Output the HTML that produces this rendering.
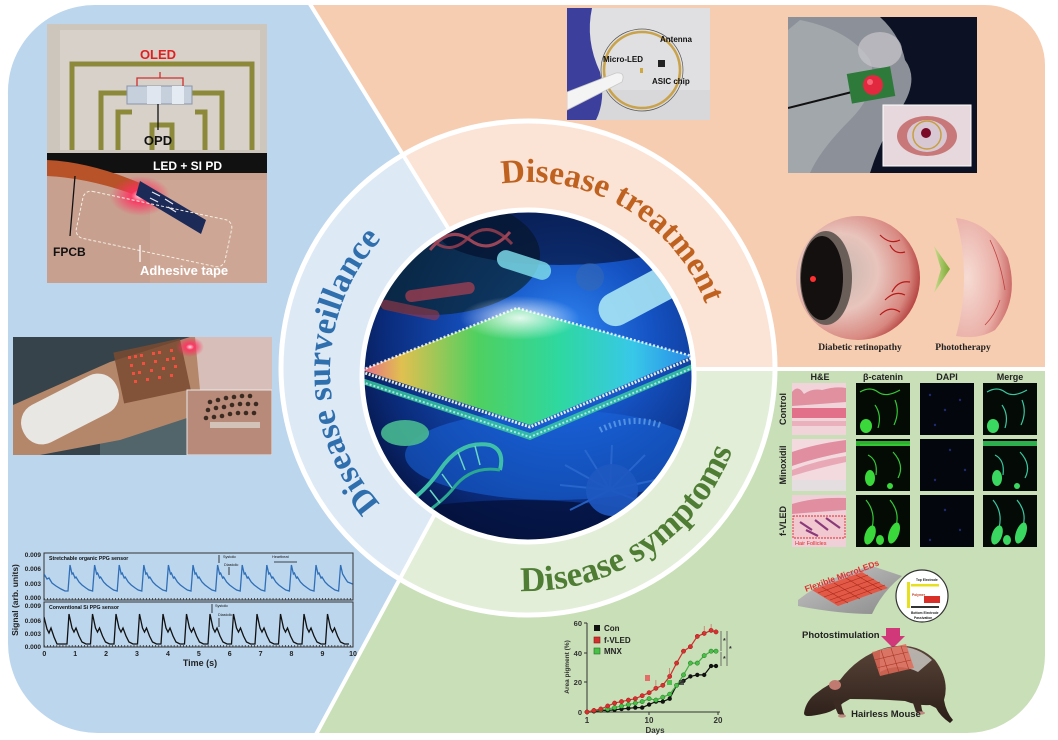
<!DOCTYPE html>
<html><head><meta charset="utf-8"><style>
html,body{margin:0;padding:0;background:#fff;width:1058px;height:740px;overflow:hidden}
svg{display:block}
.sb{font-family:"Liberation Sans",sans-serif;font-weight:bold}
.sr{font-family:"Liberation Serif",serif;font-weight:bold}
</style></head><body>
<svg xmlns="http://www.w3.org/2000/svg" width="1058" height="740" viewBox="0 0 1058 740">
<defs>
<clipPath id="outerC"><path d="M8,95 A87,87 0 0 1 95,5 L985,5 A60,60 0 0 1 1045,65 L1045,655 A78,78 0 0 1 967,733 L98,733 A90,90 0 0 1 8,643 Z"/></clipPath>
<clipPath id="ringC"><circle cx="528" cy="368" r="247"/></clipPath>
<clipPath id="innC"><circle cx="528" cy="376" r="166"/></clipPath>
<clipPath id="p1C"><rect x="47" y="24" width="220" height="259"/></clipPath>
<clipPath id="p2C"><rect x="13" y="337" width="259" height="118"/></clipPath>
<clipPath id="p3C"><rect x="567" y="8" width="143" height="112"/></clipPath>
<clipPath id="p4C"><rect x="788" y="17" width="189" height="156"/></clipPath>
<clipPath id="ppgT"><rect x="44" y="553" width="309" height="47"/></clipPath>
<clipPath id="ppgB"><rect x="44" y="602" width="309" height="45"/></clipPath>
<radialGradient id="bgG" cx="0.6" cy="0.38" r="0.7">
<stop offset="0" stop-color="#2f86f2"/><stop offset="0.35" stop-color="#1553c4"/><stop offset="0.75" stop-color="#0a2a78"/><stop offset="1" stop-color="#040e34"/></radialGradient>
<linearGradient id="plateG" x1="362" y1="0" x2="692" y2="0" gradientUnits="userSpaceOnUse">
<stop offset="0" stop-color="#e86a8a"/><stop offset="0.12" stop-color="#e0c050"/><stop offset="0.35" stop-color="#4fd060"/><stop offset="0.6" stop-color="#2ed8a0"/><stop offset="0.82" stop-color="#38c8e8"/><stop offset="1" stop-color="#2a8ae8"/></linearGradient>
<radialGradient id="glowTop" cx="0.5" cy="0.5" r="0.5"><stop offset="0" stop-color="#ffffff" stop-opacity="0.85"/><stop offset="1" stop-color="#ffffff" stop-opacity="0"/></radialGradient>
<radialGradient id="redGlow" cx="0.5" cy="0.5" r="0.5"><stop offset="0" stop-color="#ffe0e8"/><stop offset="0.3" stop-color="#ff3060" stop-opacity="0.9"/><stop offset="1" stop-color="#ff3060" stop-opacity="0"/></radialGradient>
<radialGradient id="eyeG" cx="0.35" cy="0.45" r="0.7"><stop offset="0" stop-color="#c8b8b0"/><stop offset="0.45" stop-color="#e8c4bc"/><stop offset="0.8" stop-color="#d88880"/><stop offset="1" stop-color="#a82828"/></radialGradient>
<radialGradient id="eye2G" cx="0.2" cy="0.5" r="0.9"><stop offset="0" stop-color="#f6dcd4"/><stop offset="0.6" stop-color="#eab0a8"/><stop offset="1" stop-color="#c05050"/></radialGradient>
<linearGradient id="arrG" x1="0" y1="0" x2="1" y2="0"><stop offset="0" stop-color="#c8dc90"/><stop offset="1" stop-color="#7aa830"/></linearGradient>
<linearGradient id="mouseG" x1="0" y1="0" x2="0" y2="1"><stop offset="0" stop-color="#5a4438"/><stop offset="1" stop-color="#2a1e18"/></linearGradient>
<linearGradient id="sheetG" x1="0" y1="0" x2="1" y2="1"><stop offset="0" stop-color="#c8c8c8"/><stop offset="1" stop-color="#8a8a8a"/></linearGradient>
<marker id="mr" viewBox="0 0 6 6" refX="3" refY="3" markerWidth="5" markerHeight="5" markerUnits="userSpaceOnUse"><circle cx="3" cy="3" r="2.6" fill="#d83030" stroke="#a01818" stroke-width="0.6"/></marker>
<marker id="mg" viewBox="0 0 6 6" refX="3" refY="3" markerWidth="5" markerHeight="5" markerUnits="userSpaceOnUse"><circle cx="3" cy="3" r="2.6" fill="#48c048" stroke="#207020" stroke-width="0.6"/></marker>
<marker id="mk" viewBox="0 0 6 6" refX="3" refY="3" markerWidth="5" markerHeight="5" markerUnits="userSpaceOnUse"><circle cx="3" cy="3" r="2.6" fill="#111"/></marker>
<path id="tpT" d="M501.6,183.8 A190,190 0 0 1 711.5,322.8"/>
<path id="tpS" d="M380.2,503.7 A198,198 0 0 1 400.7,220.3"/>
<path id="tpY" d="M520.4,590.9 A219,219 0 0 0 742.2,417.5"/>
</defs>

<!-- ===== background sectors ===== -->
<g clip-path="url(#outerC)">
<polygon points="0,0 307.5,0 535,369 513,369 313,740 0,740" fill="#bcd6ed"/>
<polygon points="307.5,0 1058,0 1058,369 535,369" fill="#f7cdb1"/>
<polygon points="513,369 1058,369 1058,740 313,740" fill="#c9dfb7"/>
<line x1="307.5" y1="0" x2="535" y2="369" stroke="#fff" stroke-width="4"/>
<line x1="313" y1="740" x2="513" y2="369" stroke="#fff" stroke-width="4"/>
<line x1="520" y1="369" x2="1058" y2="369" stroke="#fff" stroke-width="4"/>
</g>

<!-- ===== ring ===== -->
<g clip-path="url(#ringC)">
<polygon points="0,0 307.5,0 535,369 513,369 313,740 0,740" fill="#dde9f5"/>
<polygon points="307.5,0 1058,0 1058,369 535,369" fill="#fbe3d5"/>
<polygon points="513,369 1058,369 1058,740 313,740" fill="#e3eed9"/>
<line x1="307.5" y1="0" x2="535" y2="369" stroke="#fff" stroke-width="4"/>
<line x1="313" y1="740" x2="513" y2="369" stroke="#fff" stroke-width="4"/>
<line x1="520" y1="369" x2="1058" y2="369" stroke="#fff" stroke-width="4"/>
</g>
<circle cx="528" cy="368" r="247" fill="none" stroke="#fff" stroke-width="5"/>

<!-- ring texts -->
<text class="sr" font-size="33.5" fill="#c0621f"><textPath href="#tpT">Disease treatment</textPath></text>
<text class="sr" font-size="34" fill="#2f6fae"><textPath href="#tpS">Disease surveillance</textPath></text>
<text class="sr" font-size="35" fill="#4e7d33"><textPath href="#tpY">Disease symptoms</textPath></text>

<!-- ===== inner circle image ===== -->
<g clip-path="url(#innC)">
<rect x="355" y="205" width="350" height="345" fill="url(#bgG)"/>
<ellipse cx="430" cy="255" rx="110" ry="60" fill="#0a2630" opacity="0.7"/>
<ellipse cx="560" cy="235" rx="120" ry="30" fill="#050c28" opacity="0.6"/>
<ellipse cx="555" cy="455" rx="150" ry="45" fill="#1a66dc" opacity="0.55"/>
<ellipse cx="520" cy="540" rx="170" ry="40" fill="#04103a" opacity="0.8"/>
<!-- red DNA -->
<path d="M430,250 Q450,225 470,240 Q490,255 510,232" fill="none" stroke="#c05060" stroke-width="3" opacity="0.8"/>
<path d="M430,238 Q450,258 470,236 Q490,220 512,244" fill="none" stroke="#a04050" stroke-width="3" opacity="0.8"/>
<!-- capsules -->
<rect x="405" y="286" width="70" height="12" rx="6" fill="#b04050" opacity="0.7" transform="rotate(-8 440 292)"/>
<rect x="380" y="305" width="60" height="10" rx="5" fill="#a03848" opacity="0.6" transform="rotate(12 410 310)"/>
<rect x="496" y="256" width="56" height="18" rx="9" fill="#7ad8e8" opacity="0.85" transform="rotate(18 524 265)"/>
<rect x="595" y="278" width="95" height="34" rx="17" fill="#a8e4f4" opacity="0.9" transform="rotate(-28 642 295)"/>
<circle cx="590" cy="277" r="14" fill="#3a6ab0" opacity="0.5"/>
<!-- plate -->
<polygon points="362,378 530,433 692,364 692,370 530,440 362,384" fill="#3ad0a0" opacity="0.8"/>
<polygon points="517,308 692,356 530,425 362,370" fill="url(#plateG)"/>
<ellipse cx="520" cy="318" rx="60" ry="22" fill="url(#glowTop)"/>
<polyline points="362,370 517,308 692,356" fill="none" stroke="#fff" stroke-width="2.5" stroke-dasharray="2 2" opacity="0.85"/>
<polyline points="362,372 530,427 692,358" fill="none" stroke="#fffde0" stroke-width="3" stroke-dasharray="2 1.5" opacity="0.9"/>
<polyline points="362,382 530,437 692,368" fill="none" stroke="#d8ffff" stroke-width="2" stroke-dasharray="2 2" opacity="0.7"/>
<!-- green blob -->
<ellipse cx="405" cy="433" rx="24" ry="13" fill="#48b890" opacity="0.9"/>
<!-- green DNA -->
<path d="M380,520 Q420,500 440,470 Q460,440 490,445 Q505,450 500,470" fill="none" stroke="#3ec0a8" stroke-width="4"/>
<path d="M385,535 Q430,515 452,490 Q470,465 500,470" fill="none" stroke="#2aa890" stroke-width="3"/>
<g stroke="#6ad8c0" stroke-width="1.5"><line x1="400" y1="512" x2="405" y2="527"/><line x1="415" y1="503" x2="422" y2="518"/><line x1="430" y1="490" x2="440" y2="503"/><line x1="442" y1="474" x2="452" y2="488"/><line x1="458" y1="452" x2="465" y2="470"/><line x1="475" y1="446" x2="480" y2="465"/></g>
<!-- virus -->
<g stroke="#2c6ad0" stroke-width="2" opacity="0.85">
<line x1="610" y1="490" x2="560" y2="485"/><line x1="610" y1="490" x2="565" y2="465"/><line x1="610" y1="490" x2="585" y2="450"/><line x1="610" y1="490" x2="612" y2="445"/><line x1="610" y1="490" x2="645" y2="455"/><line x1="610" y1="490" x2="655" y2="480"/><line x1="610" y1="490" x2="570" y2="510"/><line x1="610" y1="490" x2="650" y2="505"/></g>
<circle cx="612" cy="490" r="26" fill="#1e58c0" opacity="0.9"/>
<path d="M600,430 Q630,415 660,425" stroke="#7ab8f0" stroke-width="6" stroke-dasharray="2 3" fill="none" opacity="0.6"/>
</g>
<circle cx="528" cy="376" r="166" fill="none" stroke="#fff" stroke-width="5"/>

<!-- ===== Photo 1 (top-left) ===== -->
<g clip-path="url(#p1C)">
<rect x="47" y="24" width="220" height="130" fill="#cdc6bd"/>
<rect x="60" y="30" width="200" height="120" fill="#ddd8d0" opacity="0.6"/>
<g fill="none" stroke="#8c8a3a" stroke-width="5">
<path d="M72,150 V64 H252 V150"/>
<path d="M101,150 V93 H150"/><path d="M185,93 H222 V150"/>
<path d="M118,150 V112 H132"/><path d="M195,112 H205 V150"/>
<path d="M152,150 V125 H172 V150"/>
</g>
<rect x="127" y="86" width="65" height="18" fill="#c6cfdc" stroke="#8a96a8" stroke-width="1"/>
<rect x="147" y="86" width="14" height="18" fill="#dfe6ef"/>
<rect x="172" y="86" width="12" height="18" fill="#e4ebf2"/>
<path d="M137,86 V78 H183 V86" fill="none" stroke="#d03030" stroke-width="1.3"/>
<line x1="160" y1="78" x2="160" y2="72" stroke="#d03030" stroke-width="1.3"/>
<text x="158" y="59" class="sb" font-size="13" fill="#e02020" text-anchor="middle">OLED</text>
<line x1="158" y1="104" x2="158" y2="130" stroke="#111" stroke-width="1.3"/>
<text x="158" y="145" class="sb" font-size="13" fill="#111" text-anchor="middle">OPD</text>
<rect x="47" y="153" width="220" height="130" fill="#c8a090"/>
<rect x="150" y="180" width="117" height="103" fill="#d0aa9a" opacity="0.6"/>
<path d="M47,153 H267 V173 H110 Q80,168 47,172 Z" fill="#111"/>
<text x="153" y="170" class="sb" font-size="12" fill="#fff">LED + SI PD</text>
<path d="M47,160 Q90,162 140,183 L138,196 Q90,178 47,176 Z" fill="#b85228"/>
<ellipse cx="140" cy="196" rx="30" ry="20" fill="url(#redGlow)"/>
<polygon points="140,181 206,220 201,234 136,195" fill="#1c2a58"/>
<g stroke="#e8e8f0" stroke-width="1.2"><line x1="152" y1="192" x2="160" y2="196"/><line x1="165" y1="199" x2="173" y2="204"/><line x1="150" y1="198" x2="158" y2="202"/><line x1="168" y1="207" x2="176" y2="212"/></g>
<rect x="78" y="205" width="152" height="48" rx="8" fill="none" stroke="#f4efe0" stroke-width="1" stroke-dasharray="3 2" transform="rotate(12 154 229)"/>
<line x1="75" y1="176" x2="70" y2="236" stroke="#111" stroke-width="1.3"/>
<line x1="140" y1="245" x2="140" y2="262" stroke="#fff" stroke-width="1.2"/>
<text x="53" y="256" class="sb" font-size="12" fill="#111">FPCB</text>
<text x="140" y="275" class="sb" font-size="13" fill="#fff">Adhesive tape</text>
</g>

<!-- ===== Photo 2 ===== -->
<g clip-path="url(#p2C)">
<rect x="13" y="337" width="259" height="118" fill="#36434a"/>
<rect x="100" y="415" width="90" height="40" fill="#5c7478" opacity="0.7"/>
<polygon points="13,405 110,362 190,337 272,337 272,392 187,392 187,418 120,440 40,455 13,455" fill="#b4876a"/>
<polygon points="195,337 272,337 272,390 200,390" fill="#d8beb8"/>
<rect x="118" y="345" width="68" height="52" fill="#7a4a30" opacity="0.85" transform="rotate(-12 152 371)"/>
<g fill="#ff5040" opacity="0.9">
<rect x="128" y="356" width="3" height="3"/><rect x="134" y="355" width="3" height="3"/><rect x="140" y="354" width="3" height="3"/><rect x="152" y="352" width="3" height="3"/><rect x="158" y="351" width="3" height="3"/><rect x="170" y="349" width="3" height="3"/>
<rect x="130" y="364" width="3" height="3"/><rect x="142" y="362" width="3" height="3"/><rect x="154" y="360" width="3" height="3"/><rect x="166" y="358" width="3" height="3"/><rect x="172" y="357" width="3" height="3"/>
<rect x="132" y="372" width="3" height="3"/><rect x="138" y="371" width="3" height="3"/><rect x="150" y="369" width="3" height="3"/><rect x="162" y="367" width="3" height="3"/><rect x="174" y="365" width="3" height="3"/>
<rect x="134" y="380" width="3" height="3"/><rect x="146" y="378" width="3" height="3"/><rect x="158" y="376" width="3" height="3"/><rect x="170" y="374" width="3" height="3"/>
</g>
<ellipse cx="190" cy="347" rx="14" ry="10" fill="url(#redGlow)"/>
<rect x="18" y="388" width="104" height="42" rx="20" fill="#e9e7e3" transform="rotate(-27 70 409)"/>
<rect x="187" y="390" width="85" height="65" fill="#b88a7a" stroke="#e8e8e8" stroke-width="1"/>
<g fill="#3a2a22">
<circle cx="210" cy="402" r="2.3"/><circle cx="218" cy="400" r="2.3"/><circle cx="226" cy="398" r="2.3"/><circle cx="234" cy="397" r="2.3"/><circle cx="242" cy="396" r="2.3"/><circle cx="250" cy="396" r="2.3"/>
<circle cx="208" cy="410" r="2.3"/><circle cx="216" cy="408" r="2.3"/><circle cx="224" cy="407" r="2.3"/><circle cx="232" cy="405" r="2.3"/><circle cx="240" cy="404" r="2.3"/><circle cx="248" cy="404" r="2.3"/><circle cx="256" cy="404" r="2.3"/>
<circle cx="206" cy="418" r="2.3"/><circle cx="214" cy="417" r="2.3"/><circle cx="222" cy="416" r="2.3"/><circle cx="230" cy="414" r="2.3"/><circle cx="238" cy="413" r="2.3"/><circle cx="246" cy="413" r="2.3"/><circle cx="254" cy="413" r="2.3"/>
</g>
<rect x="210" y="422" width="50" height="6" fill="#d8d0c8" opacity="0.8"/>
</g>

<!-- ===== PPG chart ===== -->
<g class="sb" font-size="6.5" fill="#222" text-anchor="end">
<text x="41" y="557">0.009</text><text x="41" y="571">0.006</text><text x="41" y="586">0.003</text><text x="41" y="600">0.000</text>
<text x="41" y="608">0.009</text><text x="41" y="623">0.006</text><text x="41" y="636">0.003</text><text x="41" y="649">0.000</text>
</g>
<rect x="44" y="553" width="309" height="47" fill="none" stroke="#333" stroke-width="1"/>
<rect x="44" y="602" width="309" height="45" fill="none" stroke="#333" stroke-width="1"/>
<line x1="44" y1="646" x2="353" y2="646" stroke="#333" stroke-width="2" stroke-dasharray="0.8 2.29"/>
<line x1="44" y1="599" x2="353" y2="599" stroke="#333" stroke-width="2" stroke-dasharray="0.8 2.29"/>
<g clip-path="url(#ppgT)">
<path fill="none" stroke="#2f6fb8" stroke-width="1.3" d="M44,574 l3,5 l2,-1 l3,5 l4,3 l5,3 l4,2 l3,0 l2,-26 l2,9 l1,-1 l2,5 l1,-1 l3,5 l3,3 l4,3 l3,2 l3.6,1 l2,-26 l2,9 l1,-1 l2,5 l1,-1 l3,5 l3,3 l4,3 l3,2 l3.6,1 l2,-26 l2,9 l1,-1 l2,5 l1,-1 l3,5 l3,3 l4,3 l3,2 l3.6,1 l2,-26 l2,9 l1,-1 l2,5 l1,-1 l3,5 l3,3 l4,3 l3,2 l3.6,1 l2,-26 l2,9 l1,-1 l2,5 l1,-1 l3,5 l3,3 l4,3 l3,2 l3.6,1 l2,-26 l2,9 l1,-1 l2,5 l1,-1 l3,5 l3,3 l4,3 l3,2 l3.6,1 l2,-26 l2,9 l1,-1 l2,5 l1,-1 l3,5 l3,3 l4,3 l3,2 l3.6,1 l2,-26 l2,9 l1,-1 l2,5 l1,-1 l3,5 l3,3 l4,3 l3,2 l3.6,1 l2,-26 l2,9 l1,-1 l2,5 l1,-1 l3,5 l3,3 l4,3 l3,2 l3.6,1 l2,-26 l2,9 l1,-1 l2,5 l1,-1 l3,5 l3,3 l4,3 l3,2 l3.6,1 l2,-26 l2,9 l1,-1 l2,5 l1,-1 l3,5 l3,3 l4,3 l3,2 l3.6,1 l2,-26 l2,9 l3,5 l2,3 l5,2"/>
</g>
<g clip-path="url(#ppgB)">
<path fill="none" stroke="#111" stroke-width="1.3" d="M44,617 l3,12 l2,4 l2,-5 l3,9 l3,7 l5,0 l5,0 l2,-30 l3,14 l2,4 l2,-4 l3,8 l3,6 l4,2 l4.5,0 l2,-30 l3,14 l2,4 l2,-4 l3,8 l3,6 l4,2 l4.5,0 l2,-30 l3,14 l2,4 l2,-4 l3,8 l3,6 l4,2 l4.5,0 l2,-30 l3,14 l2,4 l2,-4 l3,8 l3,6 l4,2 l4.5,0 l2,-30 l3,14 l2,4 l2,-4 l3,8 l3,6 l4,2 l4.5,0 l2,-30 l3,14 l2,4 l2,-4 l3,8 l3,6 l4,2 l4.5,0 l2,-30 l3,14 l2,4 l2,-4 l3,8 l3,6 l4,2 l4.5,0 l2,-30 l3,14 l2,4 l2,-4 l3,8 l3,6 l4,2 l4.5,0 l2,-30 l3,14 l2,4 l2,-4 l3,8 l3,6 l4,2 l4.5,0 l2,-30 l3,14 l2,4 l2,-4 l3,8 l3,6 l4,2 l4.5,0 l2,-30 l3,14 l2,4 l2,-4 l3,8 l3,6 l4,2 l4.5,0 l2,-30 l3,14 l2,4 l2,-4 l3,8 l3,6 l4,2 l4.5,0"/>
</g>
<g class="sb" font-size="5.2" fill="#111">
<text x="49" y="560">Stretchable organic PPG sensor</text>
<text x="49" y="609">Conventional Si PPG sensor</text>
</g>
<g font-family="Liberation Sans,sans-serif" font-size="3.8" fill="#111">
<text x="223" y="558">Systolic</text><text x="224" y="566">Diastolic</text><text x="272" y="558">Heartbeat</text>
<text x="215" y="607">Systolic</text><text x="218" y="616">Diastolic</text>
</g>
<g stroke="#111" stroke-width="0.8" fill="none">
<line x1="219" y1="555" x2="219" y2="563"/><line x1="229" y1="567" x2="229" y2="575"/>
<line x1="274" y1="562" x2="297" y2="562"/>
<line x1="212" y1="604" x2="212" y2="613"/><line x1="219" y1="618" x2="219" y2="627"/>
</g>
<g class="sb" font-size="7" fill="#222" text-anchor="middle">
<text x="44.3" y="656">0</text><text x="75.2" y="656">1</text><text x="106.1" y="656">2</text><text x="137" y="656">3</text><text x="167.9" y="656">4</text><text x="198.8" y="656">5</text><text x="229.7" y="656">6</text><text x="260.6" y="656">7</text><text x="291.5" y="656">8</text><text x="322.4" y="656">9</text><text x="353" y="656">10</text>
</g>
<text x="200" y="666" class="sb" font-size="9" fill="#222" text-anchor="middle">Time (s)</text>
<text class="sb" font-size="8.5" fill="#222" text-anchor="middle" transform="translate(18 600) rotate(-90)">Signal (arb. units)</text>

<!-- ===== Antenna photo ===== -->
<g clip-path="url(#p3C)">
<rect x="567" y="8" width="143" height="112" fill="#e0e0e2"/>
<rect x="567" y="90" width="143" height="30" fill="#d2d2d6" opacity="0.6"/>
<path d="M567,8 L592,8 Q585,40 600,72 Q606,100 596,120 L567,120 Z" fill="#3d3f9c"/>
<circle cx="642" cy="70" r="41" fill="none" stroke="#555" stroke-width="0.7"/>
<circle cx="642" cy="70" r="38" fill="none" stroke="#c9a24a" stroke-width="2.6"/>
<path d="M567,92 L616,73 Q626,72 622,82 L567,110 Z" fill="#f4f4f4" stroke="#c8c8c8" stroke-width="0.8"/>
<rect x="658" y="60" width="7" height="7" fill="#222"/>
<rect x="640" y="68" width="3" height="5" fill="#d0a840"/>
<text x="660" y="42" class="sb" font-size="8" fill="#111">Antenna</text>
<text x="603" y="62" class="sb" font-size="8" fill="#111">Micro-LED</text>
<text x="652" y="84" class="sb" font-size="8" fill="#111">ASIC chip</text>
</g>

<!-- ===== Mouse eye photo ===== -->
<g clip-path="url(#p4C)">
<rect x="788" y="17" width="189" height="156" fill="#0c1224"/>
<path d="M788,17 L880,17 Q900,35 905,60 Q920,80 900,110 Q880,140 870,173 L788,173 Z" fill="#8c9098"/>
<path d="M800,20 Q850,30 870,60 Q880,90 850,120 Q820,150 810,173 L788,173 L788,30 Z" fill="#a8acb2" opacity="0.8"/>
<ellipse cx="880" cy="50" rx="22" ry="18" fill="#c8c6cc" opacity="0.7"/>
<line x1="788" y1="108" x2="852" y2="92" stroke="#111" stroke-width="2"/>
<rect x="849" y="70" width="44" height="30" fill="#2d7a3a" transform="rotate(-10 871 85)"/>
<circle cx="873" cy="85" r="10" fill="#e2283e"/>
<circle cx="870" cy="82" r="3" fill="#ff8090" opacity="0.7"/>
<rect x="883" y="105" width="88" height="61" fill="#e6d8dc" stroke="#fff" stroke-width="1"/>
<ellipse cx="927" cy="136" rx="30" ry="20" fill="#c87878"/>
<ellipse cx="927" cy="136" rx="20" ry="16" fill="#d8c8d4"/>
<circle cx="927" cy="135" r="14" fill="none" stroke="#c8a040" stroke-width="1.5"/>
<circle cx="926" cy="133" r="5" fill="#7a0a28"/>
</g>

<!-- ===== Eye illustration ===== -->
<circle cx="858" cy="278" r="62" fill="url(#eyeG)"/>
<ellipse cx="826" cy="278" rx="26" ry="47" fill="#6a5e58"/>
<ellipse cx="822" cy="278" rx="21" ry="42" fill="#141010"/>
<circle cx="813" cy="279" r="3" fill="#ff3030"/>
<g stroke="#b81818" stroke-width="1.2" fill="none">
<path d="M880,235 Q890,245 900,240 M890,245 Q895,255 905,252"/>
<path d="M885,300 Q895,290 905,295 M892,292 Q898,280 910,282 M880,315 Q890,305 900,312"/>
</g>
<polygon points="934,246 950,269 934,293 941,269" fill="url(#arrG)"/>
<path d="M956,218 Q990,222 1008,258 Q1020,300 995,330 Q978,340 956,336 Q972,277 956,218 Z" fill="url(#eye2G)"/>
<path d="M990,240 Q1000,260 1005,290 M1000,300 Q995,315 985,325" stroke="#c04040" stroke-width="0.8" fill="none"/>
<text x="860" y="350" class="sr" font-size="9.5" fill="#222" text-anchor="middle">Diabetic retinopathy</text>
<text x="963" y="350" class="sr" font-size="9.5" fill="#222" text-anchor="middle">Phototherapy</text>

<!-- ===== Histology grid ===== -->
<g class="sb" font-size="9" fill="#222" text-anchor="middle">
<text x="820" y="380">H&amp;E</text><text x="883" y="380">β-catenin</text><text x="947" y="380">DAPI</text><text x="1010" y="380">Merge</text>
<text transform="translate(786 409) rotate(-90)">Control</text>
<text transform="translate(786 465) rotate(-90)">Minoxidil</text>
<text transform="translate(786 521) rotate(-90)">f-VLED</text>
</g>
<!-- H&E cells -->
<rect x="792" y="383" width="54" height="52" fill="#f0d4da"/>
<path d="M792,392 Q798,384 804,394 Q812,388 822,390 Q836,386 846,388 V402 Q820,404 792,406 Z" fill="#e0909f"/>
<rect x="792" y="408" width="54" height="10" fill="#e2708a"/>
<rect x="792" y="421" width="54" height="5" fill="#eab0bc"/>
<rect x="792" y="439" width="54" height="52" fill="#f2dade"/>
<path d="M792,452 Q815,444 846,440 V452 Q815,458 792,466 Z" fill="#e08ea0"/>
<path d="M792,470 Q818,460 846,456 V462 Q818,468 792,476 Z" fill="#e9a8b6"/>
<rect x="792" y="480" width="54" height="11" fill="#e4dee0"/>
<rect x="792" y="495" width="54" height="52" fill="#f0d0d8"/>
<path d="M792,504 Q815,497 846,498 V510 Q815,512 792,514 Z" fill="#e08ea0"/>
<rect x="793" y="516" width="52" height="22" fill="#f2c8d0" stroke="#e02828" stroke-width="0.9" stroke-dasharray="2 1"/>
<g stroke="#8a3a7a" stroke-width="2.2"><line x1="800" y1="522" x2="812" y2="530"/><line x1="815" y1="520" x2="828" y2="530"/><line x1="826" y1="518" x2="840" y2="528"/><line x1="806" y1="530" x2="818" y2="536"/></g>
<text x="795" y="545" font-family="Liberation Sans,sans-serif" font-size="5.5" fill="#e02828">Hair Follicles</text>
<!-- fluorescence cells -->
<g>
<rect x="856" y="383" width="54" height="52" fill="#040a04"/>
<rect x="920" y="383" width="54" height="52" fill="#04060e"/>
<rect x="983" y="383" width="54" height="52" fill="#040a06"/>
<rect x="856" y="439" width="54" height="52" fill="#040a04"/>
<rect x="920" y="439" width="54" height="52" fill="#04060e"/>
<rect x="983" y="439" width="54" height="52" fill="#040a06"/>
<rect x="856" y="495" width="54" height="52" fill="#040a04"/>
<rect x="920" y="495" width="54" height="52" fill="#04060e"/>
<rect x="983" y="495" width="54" height="52" fill="#040a06"/>
</g>
<g fill="none" stroke="#34c834" stroke-width="1.2">
<path d="M860,392 Q870,386 878,392 Q886,398 900,390"/><path d="M875,405 Q882,415 878,428"/><path d="M895,400 Q900,412 894,425"/>
<path d="M860,445 H910"/><path d="M868,455 Q878,460 876,475"/><path d="M893,452 Q905,465 898,478"/>
<path d="M866,500 Q876,512 872,528"/><path d="M890,500 Q900,512 896,526"/>
</g>
<g fill="#3ad83a">
<ellipse cx="866" cy="426" rx="6" ry="7"/>
<rect x="856" y="441" width="54" height="5" opacity="0.8"/><ellipse cx="870" cy="478" rx="5" ry="8"/><circle cx="890" cy="486" r="3"/>
<ellipse cx="870" cy="535" rx="5" ry="10" transform="rotate(20 870 535)"/><ellipse cx="894" cy="533" rx="5" ry="11" transform="rotate(20 894 533)"/><ellipse cx="880" cy="540" rx="4" ry="5"/>
</g>
<g fill="#2a3a9a" opacity="0.7">
<circle cx="930" cy="395" r="1.2"/><circle cx="945" cy="410" r="1.2"/><circle cx="960" cy="400" r="1.2"/><circle cx="935" cy="425" r="1.2"/><circle cx="950" cy="450" r="1.2"/><circle cx="965" cy="470" r="1.2"/><circle cx="935" cy="480" r="1.2"/><circle cx="945" cy="510" r="1.2"/><circle cx="960" cy="530" r="1.2"/><circle cx="930" cy="540" r="1.2"/>
</g>
<g fill="none" stroke="#38c8a0" stroke-width="1.2">
<path d="M987,392 Q997,386 1005,392 Q1013,398 1027,390"/><path d="M1002,405 Q1009,415 1005,428"/><path d="M1022,400 Q1027,412 1021,425"/>
<path d="M995,455 Q1005,460 1003,475"/><path d="M1020,452 Q1032,465 1025,478"/>
<path d="M993,500 Q1003,512 999,528"/><path d="M1017,500 Q1027,512 1023,526"/>
</g>
<g fill="#3ad860">
<ellipse cx="993" cy="426" rx="6" ry="7"/>
<rect x="983" y="441" width="54" height="5" opacity="0.8"/><ellipse cx="997" cy="478" rx="5" ry="8"/><circle cx="1017" cy="486" r="3"/>
<ellipse cx="997" cy="535" rx="5" ry="10" transform="rotate(20 997 535)"/><ellipse cx="1021" cy="533" rx="5" ry="11" transform="rotate(20 1021 533)"/><ellipse cx="1007" cy="540" rx="4" ry="5"/>
</g>

<!-- ===== Flexible MicroLEDs ===== -->
<path d="M798,600 Q828,576 872,566 L902,576 Q882,592 872,614 Q840,614 798,606 Z" fill="url(#sheetG)"/>
<polygon points="812,590 862,572 888,588 838,606" fill="#e8503c" opacity="0.9"/>
<g stroke="#a82818" stroke-width="0.6">
<line x1="818" y1="593" x2="868" y2="575"/><line x1="824" y1="597" x2="874" y2="579"/><line x1="830" y1="600" x2="880" y2="582"/><line x1="835" y1="603" x2="885" y2="585"/>
<line x1="822" y1="587" x2="848" y2="603"/><line x1="834" y1="583" x2="860" y2="599"/><line x1="846" y1="578" x2="872" y2="594"/><line x1="856" y1="575" x2="882" y2="590"/>
</g>
<text class="sb" font-size="8.5" fill="#e03030" transform="translate(806 592) rotate(-20)">Flexible MicroLEDs</text>
<circle cx="922" cy="596" r="26" fill="#fff" stroke="#333" stroke-width="1.2"/>
<rect x="907" y="582" width="3" height="26" fill="#e6e020"/>
<rect x="911" y="584" width="28" height="2.5" fill="#e6e020"/>
<rect x="924" y="596" width="16" height="7" fill="#d83028"/>
<rect x="911" y="606" width="28" height="2" fill="#333"/>
<g class="sb" font-size="3.3" fill="#222"><text x="916" y="581">Top Electrode</text><text x="911" y="614">Bottom Electrode</text><text x="914" y="619">Passivation</text><text x="912" y="596" fill="#c04020">Polymer</text></g>
<text x="802" y="638" class="sb" font-size="9.5" fill="#222">Photostimulation</text>
<polygon points="886,628 900,628 900,636 905,636 893,648 881,636 886,636" fill="#d0387a"/>
<!-- mouse -->
<path d="M804,713 Q806,700 818,692 Q828,684 840,680 Q858,656 885,648 Q915,640 935,660 Q950,680 944,700 Q946,712 953,720 L950,723 Q940,716 936,708 L930,705 Q918,706 905,701 Q878,699 850,699 L843,703 Q836,710 826,713 Q814,716 808,716 Q804,716 804,713 Z" fill="url(#mouseG)"/>
<path d="M832,700 L838,714 L845,716 L843,712 L840,700 Z" fill="#3a2a22"/>
<path d="M912,700 L916,712 L924,714 L922,710 L920,699 Z" fill="#3a2a22"/>
<ellipse cx="842" cy="716" rx="4" ry="1.6" fill="#c08a80"/>
<ellipse cx="921" cy="713" rx="4" ry="1.6" fill="#c08a80"/>
<path d="M880,650 Q910,640 932,660 L918,672 Q898,662 880,672 Z" fill="#c8c4c0" opacity="0.85"/>
<polygon points="872,652 906,644 914,668 880,676" fill="#e06a58" opacity="0.85"/>
<g stroke="#a83828" stroke-width="0.6"><line x1="874" y1="660" x2="908" y2="652"/><line x1="876" y1="668" x2="911" y2="660"/><line x1="881" y1="650" x2="889" y2="674"/><line x1="891" y1="648" x2="899" y2="672"/><line x1="901" y1="646" x2="909" y2="670"/></g>
<ellipse cx="835" cy="685" rx="6" ry="5" fill="#c07a70"/>
<text x="886" y="717" class="sb" font-size="9.5" fill="#222" text-anchor="middle">Hairless Mouse</text>

<!-- ===== Pigment chart ===== -->
<path d="M587,623 V712 H720" fill="none" stroke="#333" stroke-width="1"/>
<g stroke="#333" stroke-width="1"><line x1="584" y1="623" x2="587" y2="623"/><line x1="584" y1="653" x2="587" y2="653"/><line x1="584" y1="682" x2="587" y2="682"/><line x1="649" y1="712" x2="649" y2="715"/><line x1="718" y1="712" x2="718" y2="715"/></g>
<g class="sb" font-size="7.5" fill="#333" text-anchor="end"><text x="582" y="626">60</text><text x="582" y="656">40</text><text x="582" y="685">20</text><text x="582" y="715">0</text></g>
<g class="sb" font-size="8" fill="#333" text-anchor="middle"><text x="587" y="723">1</text><text x="649" y="723">10</text><text x="718" y="723">20</text><text x="655" y="733">Days</text></g>
<text class="sb" font-size="6.5" fill="#333" text-anchor="middle" transform="translate(569 667) rotate(-90)">Area pigment (%)</text>
<polyline fill="none" stroke="#111" stroke-width="1.2" marker-start="url(#mk)" marker-mid="url(#mk)" marker-end="url(#mk)" points="587,712 593.9,711.3 600.8,710.5 607.7,710.5 614.6,709.8 621.5,709 628.4,708.3 635.3,707.6 642.2,707.6 649.1,704.6 655.9,701.6 662.8,701.6 669.7,698.7 676.6,685.3 683.5,680.9 690.4,676.4 697.3,674.9 704.2,674.9 711.1,666 716,666"/>
<polyline fill="none" stroke="#40b040" stroke-width="1.2" marker-start="url(#mg)" marker-mid="url(#mg)" marker-end="url(#mg)" points="587,712 593.9,710.5 600.8,709.8 607.7,709 614.6,707.6 621.5,706.1 628.4,704.6 635.3,703.1 642.2,701.6 649.1,698.7 655.9,700.1 662.8,697.2 669.7,694.2 676.6,685.3 683.5,674.9 690.4,663.1 697.3,663.1 704.2,655.6 711.1,651.2 716,651.2"/>
<polyline fill="none" stroke="#d03030" stroke-width="1.2" marker-start="url(#mr)" marker-mid="url(#mr)" marker-end="url(#mr)" points="587,712 593.9,710.5 600.8,709 607.7,706 614.6,703.1 621.5,701.6 628.4,700.1 635.3,698.7 642.2,695.7 649.1,692.7 655.9,688.3 662.8,685.3 669.7,676.4 676.6,663.1 683.5,651.2 690.4,646.7 697.3,636.4 704.2,633.4 711.1,630.4 716,631.9"/>
<g stroke="#d05050" stroke-width="0.6"><line x1="655.9" y1="688" x2="655.9" y2="680"/><line x1="669.7" y1="676" x2="669.7" y2="668"/><line x1="704.2" y1="633" x2="704.2" y2="626"/><line x1="711.1" y1="630" x2="711.1" y2="624"/></g>
<rect x="645" y="675" width="5" height="6" fill="#e86060" opacity="0.9"/>
<rect x="667" y="680" width="5" height="5" fill="#50c050"/>
<rect x="679" y="680" width="5" height="5" fill="#333" opacity="0.8"/>
<g stroke="#555" stroke-width="0.8"><line x1="721" y1="631" x2="721" y2="651"/><line x1="721" y1="652" x2="721" y2="666"/><line x1="727" y1="631" x2="727" y2="666"/></g>
<g class="sb" font-size="7" fill="#333"><text x="723" y="643">*</text><text x="723" y="661">*</text><text x="729" y="651">*</text></g>
<rect x="594" y="625" width="6" height="6" fill="#111"/>
<rect x="594" y="637" width="6" height="6" fill="#d03030" stroke="#901818" stroke-width="0.6"/>
<rect x="594" y="648" width="6" height="6" fill="#48c048" stroke="#207020" stroke-width="0.6"/>
<g class="sb" font-size="8" fill="#222"><text x="604" y="631">Con</text><text x="604" y="643">f-VLED</text><text x="604" y="654">MNX</text></g>
</svg>
</body></html>
